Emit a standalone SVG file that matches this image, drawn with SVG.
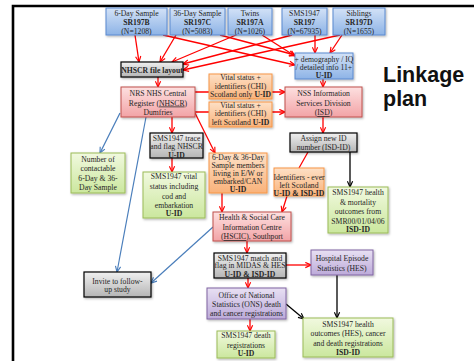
<svg xmlns="http://www.w3.org/2000/svg" width="474" height="361" viewBox="0 0 474 361">
<defs>
<linearGradient id="gBlue" x1="0" y1="0" x2="0" y2="1"><stop offset="0" stop-color="#d3e2f7"/><stop offset="1" stop-color="#8db3e6"/></linearGradient>
<linearGradient id="gPink" x1="0" y1="0" x2="0" y2="1"><stop offset="0" stop-color="#fde0e0"/><stop offset="1" stop-color="#f2a3a6"/></linearGradient>
<linearGradient id="gOrange" x1="0" y1="0" x2="0" y2="1"><stop offset="0" stop-color="#fde0c6"/><stop offset="1" stop-color="#f9b27a"/></linearGradient>
<linearGradient id="gGreen" x1="0" y1="0" x2="0" y2="1"><stop offset="0" stop-color="#f1f9df"/><stop offset="1" stop-color="#cbe79e"/></linearGradient>
<linearGradient id="gGray" x1="0" y1="0" x2="0" y2="1"><stop offset="0" stop-color="#f0f0f0"/><stop offset="1" stop-color="#b5b5b5"/></linearGradient>
<linearGradient id="gPurple" x1="0" y1="0" x2="0" y2="1"><stop offset="0" stop-color="#e8e0f3"/><stop offset="1" stop-color="#bcaad9"/></linearGradient>
<filter id="sh" x="-10%" y="-10%" width="130%" height="140%"><feDropShadow dx="1" dy="1.2" stdDeviation="0.8" flood-color="#000" flood-opacity="0.3"/></filter>
<marker id="aR" viewBox="0 0 8 8" refX="7.5" refY="4" markerWidth="7" markerHeight="7" markerUnits="userSpaceOnUse" orient="auto"><path d="M1,1 L7.5,4 L1,7" fill="none" stroke="#ff0000" stroke-width="1.3"/></marker>
<marker id="aB" viewBox="0 0 8 8" refX="7.5" refY="4" markerWidth="7" markerHeight="7" markerUnits="userSpaceOnUse" orient="auto"><path d="M1,1 L7.5,4 L1,7" fill="none" stroke="#4a7ebb" stroke-width="1.3"/></marker>
<marker id="aK" viewBox="0 0 8 8" refX="7.5" refY="4" markerWidth="7" markerHeight="7" markerUnits="userSpaceOnUse" orient="auto"><path d="M1,1 L7.5,4 L1,7" fill="none" stroke="#000" stroke-width="1.3"/></marker>
</defs>
<style>
text{font-family:"Liberation Serif","Times New Roman",serif;font-size:7.7px;fill:#262626;text-anchor:middle}
.b{font-weight:bold}
.u{text-decoration:underline}
.blue{fill:url(#gBlue);stroke:#5a8ad0;stroke-width:1}
.pink{fill:url(#gPink);stroke:#c0504d;stroke-width:1}
.orange{fill:url(#gOrange);stroke:#f79646;stroke-width:1}
.green{fill:url(#gGreen);stroke:#9bbb59;stroke-width:1}
.gray{fill:url(#gGray);stroke:#000;stroke-width:1.2}
.purple{fill:url(#gPurple);stroke:#8064a2;stroke-width:1}
rect{filter:url(#sh)}
.r{stroke:#ff0000;stroke-width:1.3;fill:none}
.r.a{marker-end:url(#aR)}
.bl{stroke:#4a7ebb;stroke-width:1.2;fill:none;marker-end:url(#aB)}
.k{stroke:#000;stroke-width:1.3;fill:none;marker-end:url(#aK)}
.title{font-family:"Liberation Sans",Arial,sans-serif;font-weight:bold;font-size:21.5px;fill:#111;text-anchor:start}
</style>
<rect x="0" y="0" width="474" height="361" fill="#fff" style="filter:none"/>
<path d="M13,361 V6 H474" fill="none" stroke="#000" stroke-width="2.6"/>
<g id="connectors">
<path class="r a" d="M135,35 L139,62"/>
<path class="r a" d="M176,35 L160,62"/>
<path class="r a" d="M236,35 L172,62"/>
<path class="r a" d="M292,35 L183,64"/>
<path class="r a" d="M340,35 L183,70"/>
<path class="r a" d="M163,35 L295,65"/>
<path class="r a" d="M220,35 L295,55"/>
<path class="r a" d="M262,35 L295,56"/>
<path class="r a" d="M315,35 L315,53"/>
<path class="r a" d="M342,35 L330,53"/>
<path class="r a" d="M158,77 L158,87"/>
<path class="r a" d="M195,92 L285,92"/>
<path class="r a" d="M195,112 L285,112"/>
<path class="r a" d="M323,79 L323,87"/>
<path class="r a" d="M323,117 L323,133"/>
<path class="r" d="M308,152 L299,168"/>
<path class="r a" d="M172,117 L172,133"/>
<path class="r a" d="M172,158 L172,172"/>
<path class="r a" d="M195,113 L215,153"/>
<path class="r a" d="M222,193 L222,212"/>
<path class="r a" d="M287,196 L282,212"/>
<path class="r a" d="M247,241 L247,253"/>
<path class="r a" d="M286,265 L311,265"/>
<path class="r a" d="M248,278 L248,288"/>
<path class="r a" d="M250,319 L250,331"/>
<path class="k" d="M350,152 L350,187"/>
<path class="k" d="M337,275 L337,318"/>
<path class="k" d="M286,304 L304,319"/>
<path class="bl" d="M120,113 L100,153"/>
<path class="bl" d="M146,117 L117,272"/>
<path class="bl" d="M213,227 L151,283"/>
</g>
<g id="n-6day"><rect class="blue" x="106" y="8" width="61" height="27"/><text x="136.5" y="15.5">6-Day Sample</text><text class="b" x="136.5" y="24.5">SR197B</text><text x="136.5" y="33.5">(N=1208)</text></g>
<g id="n-36day"><rect class="blue" x="170" y="8" width="55" height="27"/><text x="197.5" y="15.5">36-Day Sample</text><text class="b" x="197.5" y="24.5">SR197C</text><text x="197.5" y="33.5">(N=5083)</text></g>
<g id="n-twins"><rect class="blue" x="228" y="8" width="44" height="27"/><text x="250" y="15.5">Twins</text><text class="b" x="250" y="24.5">SR197A</text><text x="250" y="33.5">(N=1026)</text></g>
<g id="n-sms"><rect class="blue" x="282" y="8" width="45" height="27"/><text x="304.5" y="15.5">SMS1947</text><text class="b" x="304.5" y="24.5">SR197</text><text x="304.5" y="33.5">(N=67935)</text></g>
<g id="n-siblings"><rect class="blue" x="333" y="8" width="52" height="27"/><text x="359" y="15.5">Siblings</text><text class="b" x="359" y="24.5">SR197D</text><text x="359" y="33.5">(N=1655)</text></g>
<g id="n-layout"><rect class="gray" x="121" y="62" width="62" height="15"/><text class="b" x="152" y="72.5" font-size="7.4">NHSCR file layout</text></g>
<g id="n-demog"><rect class="blue" x="295" y="53" width="58" height="26"/><text x="324" y="61.5">+ demography / IQ</text><text x="324" y="69.5">/ detailed info 11+</text><text class="b" x="324" y="77.5">U-ID</text></g>
<g id="n-nrs"><rect class="pink" x="121" y="87" width="74" height="30"/><text x="158" y="96">NRS NHS Central</text><text x="158" y="105.5">Register (<tspan class="u">NHSCR</tspan>)</text><text x="158" y="115">Dumfries</text></g>
<g id="n-vs1"><rect class="orange" x="209" y="74" width="63" height="25"/><text x="240.5" y="80">Vital status +</text><text x="240.5" y="88.5">identifiers (CHI)</text><text x="240.5" y="97">Scotland only <tspan class="b">U-ID</tspan></text></g>
<g id="n-vs2"><rect class="orange" x="209" y="102" width="63" height="25"/><text x="240.5" y="107.5">Vital status +</text><text x="240.5" y="116">identifiers (CHI)</text><text x="240.5" y="124.5">left Scotland <tspan class="b">U-ID</tspan></text></g>
<g id="n-nss"><rect class="pink" x="285" y="87" width="77" height="30"/><text x="323.5" y="96">NSS Information</text><text x="323.5" y="105.5">Services Division</text><text x="323.5" y="115">(<tspan class="u">ISD</tspan>)</text></g>
<g id="n-assign"><rect class="gray" x="290" y="133" width="67" height="19"/><text x="323.5" y="140.5">Assign new ID</text><text x="323.5" y="149.5">number (ISD-ID)</text></g>
<g id="n-trace"><rect class="gray" x="150" y="133" width="53" height="25"/><text x="176.5" y="140.5">SMS1947 trace</text><text x="176.5" y="149">and flag NHSCR</text><text class="b" x="176.5" y="157.5">U-ID</text></g>
<g id="n-number"><rect class="green" x="71" y="153" width="54" height="40"/><text x="98" y="161.5">Number of</text><text x="98" y="171">contactable</text><text x="98" y="180.5">6-Day &amp; 36-</text><text x="98" y="190">Day Sample</text></g>
<g id="n-vital"><rect class="green" x="143" y="172" width="62" height="46"/><text x="174" y="178.5">SMS1947 vital</text><text x="174" y="188.5">status including</text><text x="174" y="198.5">cod and</text><text x="174" y="207.5">embarkation</text><text class="b" x="174" y="216">U-ID</text></g>
<g id="n-ew"><rect class="orange" x="209" y="153" width="58" height="40"/><text x="238" y="159.5" font-size="7">6-Day &amp; 36-Day</text><text x="238" y="167.5" font-size="7">Sample members</text><text x="238" y="175.5" font-size="7">living in E/W or</text><text x="238" y="183.5" font-size="7">embarked/CAN</text><text class="b" x="238" y="191.5" font-size="7">U-ID</text></g>
<g id="n-ident"><rect class="orange" x="274" y="168" width="50" height="28"/><text x="299" y="179.5" font-size="7.2">Identifiers - ever</text><text x="299" y="187.5" font-size="7.2">left Scotland</text><text class="b" x="299" y="195.5" font-size="7.2">U-ID &amp; ISD-ID</text></g>
<g id="n-health"><rect class="green" x="328" y="187" width="60" height="46"/><text x="358" y="194.5">SMS1947 health</text><text x="358" y="204.5">&amp; mortality</text><text x="358" y="213.5">outcomes from</text><text x="358" y="223.5">SMR00/01/04/06</text><text class="b" x="358" y="232">ISD-ID</text></g>
<g id="n-hscic"><rect class="pink" x="213" y="212" width="78" height="29"/><text x="252" y="219.5">Health &amp; Social Care</text><text x="252" y="229.5">Information Centre</text><text x="252" y="239">(<tspan class="u">HSCIC</tspan>), Southport</text></g>
<g id="n-invite"><rect class="gray" x="84" y="272" width="67" height="25"/><text x="117.5" y="283.5">Invite to follow-</text><text x="117.5" y="291.5">up study</text></g>
<g id="n-match"><rect class="gray" x="214" y="253" width="72" height="25"/><text x="250" y="260.5">SMS1947 match and</text><text x="250" y="268">flag in MIDAS &amp; HES</text><text class="b" x="250" y="276.5">U-ID &amp; ISD-ID</text></g>
<g id="n-hes"><rect class="purple" x="311" y="250" width="62" height="25"/><text x="342" y="260.5">Hospital Episode</text><text x="342" y="270.5">Statistics (HES)</text></g>
<g id="n-ons"><rect class="purple" x="207" y="288" width="79" height="31"/><text x="246.5" y="297.5">Office of National</text><text x="246.5" y="306.5">Statistics (ONS) death</text><text x="246.5" y="315.5">and cancer registrations</text></g>
<g id="n-death"><rect class="green" x="217" y="331" width="58" height="27"/><text x="246" y="337.5">SMS1947 death</text><text x="246" y="347.5">registrations</text><text class="b" x="246" y="355.5">U-ID</text></g>
<g id="n-outcomes"><rect class="green" x="303" y="318" width="90" height="39"/><text x="348" y="326.5">SMS1947 health</text><text x="348" y="335.5">outcomes (HES), cancer</text><text x="348" y="345.5">and death registrations</text><text class="b" x="348" y="354.5">ISD-ID</text></g>
<g id="title"><text class="title" x="383" y="82">Linkage</text><text class="title" x="383" y="105.5">plan</text></g>
</svg>
